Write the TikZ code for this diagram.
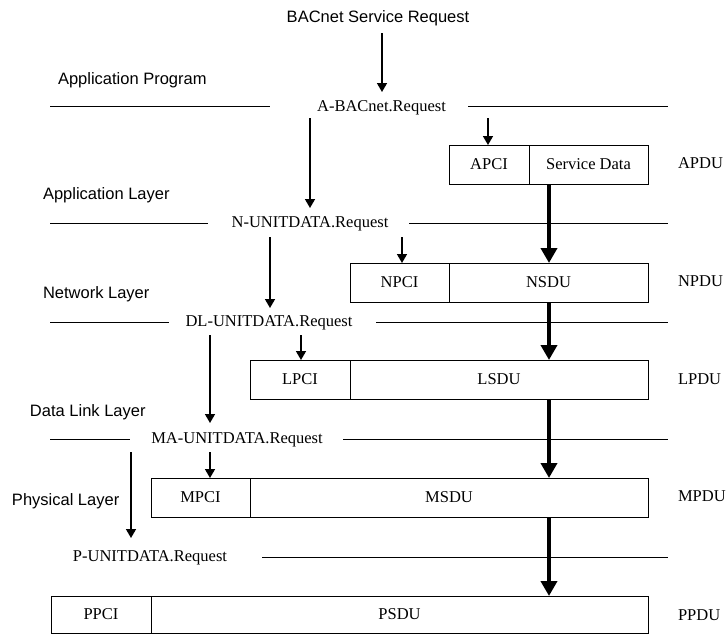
\documentclass[tikz,border=0pt]{standalone}
\usepackage{fontspec}
\setmainfont{Liberation Serif}
\newfontfamily\labsans{Liberation Sans}
\usetikzlibrary{arrows.meta}
\begin{document}
\begin{tikzpicture}[x=1pt,y=-1pt,
  txt/.style={inner sep=0pt,outer sep=0pt,text height=12pt,text depth=4pt,font=\fontsize{16.5}{19}\selectfont},
  stxt/.style={txt,font=\labsans\fontsize{16.5}{19}\selectfont},
  pdu/.style={draw,line width=1pt,anchor=north west,inner sep=0pt,outer sep=0pt,minimum height=39pt,font=\fontsize{16.5}{19}\selectfont},
  layerline/.style={line width=1pt},
  arr/.style={line width=1.5pt,-{Triangle[length=9pt,width=10pt]}},
  bigarr/.style={line width=4.5pt,-{Triangle[length=15pt,width=16pt]}}]
\useasboundingbox (0,0) rectangle (726,633);
% column coordinates
\coordinate (c1) at (382,0);
\coordinate (c2) at (310,0);
\coordinate (c3) at (488,0);
\coordinate (c4) at (270,0);
\coordinate (c5) at (402,0);
\coordinate (c6) at (210,0);
\coordinate (c7) at (301,0);
\coordinate (c8) at (131,0);
\coordinate (ct) at (549,0);
% labels
\node[stxt] (svc) at (378,18) {BACnet Service Request};
\node[stxt,anchor=west] (ap) at (58,80) {Application Program};
\node[stxt,anchor=west] (al) at (43,195) {Application Layer};
\node[stxt,anchor=west] (nl) at (43,294) {Network Layer};
\node[stxt,anchor=west] (dll) at (30,412) {Data Link Layer};
\node[stxt,anchor=west] (pl) at (12,501) {Physical Layer};
\node[txt] (reqA) at (381.5,107) {A-BACnet.Request};
\node[txt] (reqN) at (310,223) {N-UNITDATA.Request};
\node[txt] (reqDL) at (269,322) {DL-UNITDATA.Request};
\node[txt] (reqMA) at (237,439) {MA-UNITDATA.Request};
\node[txt] (reqP) at (150,557) {P-UNITDATA.Request};
% layer lines
\draw[layerline] (50,106) -- (270,106) (468,106) -- (668,106);
\draw[layerline] (50,223) -- (208,223) (409,223) -- (668,223);
\draw[layerline] (50,322) -- (169,322) (376,322) -- (668,322);
\draw[layerline] (50,439) -- (130,439) (343,439) -- (668,439);
\draw[layerline] (262,557) -- (668,557);
% PDU boxes
\node[pdu,minimum width=80pt] (apci) at (449,145) {APCI};
\node[pdu,minimum width=119pt] (sdata) at (529,145) {Service Data};
\node[pdu,minimum width=99pt] (npci) at (350,263) {NPCI};
\node[pdu,minimum width=199pt] (nsdu) at (449,263) {NSDU};
\node[pdu,minimum width=100pt] (lpci) at (250,360) {LPCI};
\node[pdu,minimum width=298pt] (lsdu) at (350,360) {LSDU};
\node[pdu,minimum width=99pt] (mpci) at (151,478) {MPCI};
\node[pdu,minimum width=398pt] (msdu) at (250,478) {MSDU};
\node[pdu,minimum width=100pt,minimum height=37pt] (ppci) at (51,596) {PPCI};
\node[pdu,minimum width=497pt,minimum height=37pt] (psdu) at (151,596) {PSDU};
% PDU names
\node[txt,anchor=west] (apdu) at (678,164.5) {APDU};
\node[txt,anchor=west] (npdu) at (678,282.5) {NPDU};
\node[txt,anchor=west] (lpdu) at (678,380) {LPDU};
\node[txt,anchor=west] (mpdu) at (678,497.5) {MPDU};
\node[txt,anchor=west] (ppdu) at (678,616) {PPDU};
% primitive arrows
\draw[arr,shorten <=7pt,shorten >=7pt] (svc.south -| c1) -- (reqA.north -| c1);
\draw[arr,shorten <=3pt,shorten >=7pt] (reqA.south -| c2) -- (reqN.north -| c2);
\draw[arr,shorten <=3pt] (reqA.south -| c3) -- (apci.north -| c3);
\draw[arr,shorten <=6pt,shorten >=6pt] (reqN.south -| c4) -- (reqDL.north -| c4);
\draw[arr,shorten <=6pt] (reqN.south -| c5) -- (npci.north -| c5);
\draw[arr,shorten <=5pt,shorten >=8pt] (reqDL.south -| c6) -- (reqMA.north -| c6);
\draw[arr,shorten <=5pt] (reqDL.south -| c7) -- (lpci.north -| c7);
\draw[arr,shorten <=5pt] (reqMA.south -| c6) -- (mpci.north -| c6);
\draw[arr,shorten <=5pt,shorten >=11pt] (reqMA.south -| c8) -- (reqP.north -| c8);
% data flow arrows
\draw[bigarr] (sdata.south -| ct) -- (nsdu.north -| ct);
\draw[bigarr] (nsdu.south -| ct) -- (lsdu.north -| ct);
\draw[bigarr] (lsdu.south -| ct) -- (msdu.north -| ct);
\draw[bigarr] (msdu.south -| ct) -- (psdu.north -| ct);
\end{tikzpicture}
\end{document}
